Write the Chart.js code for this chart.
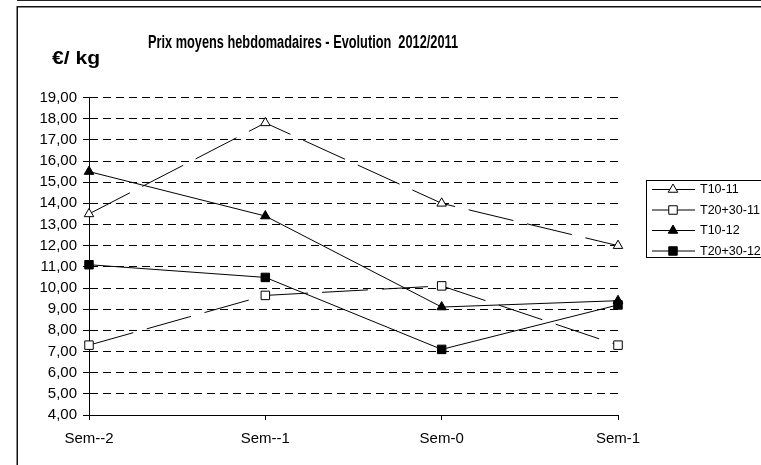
<!DOCTYPE html>
<html>
<head>
<meta charset="utf-8">
<script src="https://cdn.jsdelivr.net/npm/chart.js@4/dist/chart.umd.min.js"></script>
<style>
body { margin: 0; background: #fff; }
canvas { display: block; }
</style>
</head>
<body>
<canvas id="graf_prix" width="761" height="465"></canvas>
<script>
// semaines et prix moyens (euros / kg)
var semaines = ['Sem--2', 'Sem--1', 'Sem-0', 'Sem-1'];
var prixT10_11 = [13.5, 17.8, 14.0, 12.0];
var prixT2030_11 = [7.3, 9.65, 10.1, 7.3];
var prixT10_12 = [15.5, 13.4, 9.1, 9.4];
var prixT2030_12 = [11.1, 10.5, 7.1, 9.2];
var nomsSeries = ['T10-11', 'T20+30-11', 'T10-12', 'T20+30-12'];

var titre = 'Prix moyens hebdomadaires - Evolution  2012/2011';
var uniteY = '\u20AC/ kg';
var police = '"Liberation Sans", Arial, sans-serif';

function marque(ctx, style, x, y, r) {
	ctx.beginPath();
	if (style == 'triangle') {
		ctx.moveTo(x, y - r);
		ctx.lineTo(x + r * 0.866, y + r / 2);
		ctx.lineTo(x - r * 0.866, y + r / 2);
		ctx.closePath();
	} else {
		var s = r * Math.SQRT1_2;
		ctx.rect(x - s, y - s, 2 * s, 2 * s);
	}
	ctx.fill();
	ctx.stroke();
}

// texte resserre pour tenir dans la largeur voulue
function texteLargeur(ctx, txt, x, y, largeur, align) {
	var w = ctx.measureText(txt).width;
	var sx = largeur / w;
	ctx.save();
	ctx.translate(x, y);
	ctx.scale(sx, 1);
	ctx.textAlign = align;
	ctx.fillText(txt, 0, 0);
	ctx.restore();
}

var cadre = {
	id: 'cadre',
	beforeDraw: function(chart) {
		var ctx = chart.ctx;
		ctx.save();
		ctx.fillStyle = '#fff';
		ctx.fillRect(0, 0, chart.width, chart.height);
		ctx.strokeStyle = '#222';
		ctx.lineWidth = 1;
		ctx.beginPath();
		ctx.moveTo(17, 0.5);
		ctx.lineTo(761, 0.5);
		ctx.stroke();
		ctx.lineWidth = 1.5;
		ctx.strokeStyle = '#111';
		ctx.beginPath();
		ctx.moveTo(17.25, 465);
		ctx.lineTo(17.25, 6.75);
		ctx.lineTo(761, 6.75);
		ctx.stroke();
		ctx.restore();
	},
	afterDraw: function(chart) {
		var ctx = chart.ctx;
		ctx.save();
		ctx.fillStyle = '#000';
		ctx.textBaseline = 'middle';
		ctx.font = 'bold 18px ' + police;
		texteLargeur(ctx, titre, 303, 43, 310, 'center');
		ctx.font = 'bold 19px ' + police;
		texteLargeur(ctx, uniteY, 52, 58.5, 48, 'left');

		// legende
		ctx.lineWidth = 1;
		ctx.strokeStyle = '#000';
		ctx.strokeRect(646.5, 180.5, 130, 77);
		ctx.font = '12.5px ' + police;
		ctx.textAlign = 'left';
		var ds = chart.data.datasets;
		for (var i = 0; i < ds.length; i++) {
			var y = 189.5 + i * 20.5;
			ctx.beginPath();
			ctx.moveTo(652, y);
			ctx.lineTo(695, y);
			ctx.stroke();
			ctx.fillStyle = ds[i].pointBackgroundColor;
			marque(ctx, ds[i].pointStyle, 673, y, ds[i].pointStyle == 'triangle' ? 5.5 : 6);
			ctx.fillStyle = '#000';
			ctx.fillText(ds[i].label, 700, y + 0.5);
		}
		ctx.restore();
	}
};

function serie(nom, valeurs, forme, plein, tirets) {
	return {
		label: nom,
		data: valeurs,
		borderColor: '#000',
		borderWidth: 1,
		borderDash: tirets,
		pointStyle: forme,
		pointRadius: forme == 'triangle' ? 5.5 : 6,
		pointBorderWidth: 1,
		pointBorderColor: '#000',
		pointBackgroundColor: plein ? '#000' : '#fff',
		fill: false,
		tension: 0
	};
}

new Chart(document.getElementById('graf_prix'), {
	type: 'line',
	data: {
		labels: semaines,
		datasets: [
			serie(nomsSeries[0], prixT10_11, 'triangle', false, [46, 14]),
			serie(nomsSeries[1], prixT2030_11, 'rect', false, [46, 14]),
			serie(nomsSeries[2], prixT10_12, 'triangle', true, []),
			serie(nomsSeries[3], prixT2030_12, 'rect', true, [])
		]
	},
	options: {
		responsive: false,
		animation: false,
		devicePixelRatio: 1,
		layout: { padding: { left: 0, top: 97.5, right: 143, bottom: 0 } },
		plugins: {
			legend: { display: false },
			title: { display: false },
			tooltip: { enabled: false }
		},
		scales: {
			x: {
				offset: false,
				afterFit: function(s) { s.height = 50; },
				grid: { drawOnChartArea: false, tickLength: 5, color: '#000', tickColor: '#000' },
				border: { color: '#000', width: 1 },
				ticks: { color: '#000', padding: 10, font: { family: police, size: 15 }, maxRotation: 0 }
			},
			y: {
				min: 4,
				max: 19,
				afterFit: function(s) { s.width = 89; },
				grid: { color: '#000', tickColor: '#000', tickLength: 6, tickBorderDash: [] },
				border: { color: '#000', width: 1, dash: [8, 5] },
				ticks: {
					stepSize: 1,
					color: '#000',
					padding: 6,
					font: { family: police, size: 15 },
					callback: function(v) { return v.toFixed(2).replace('.', ','); }
				}
			}
		}
	},
	plugins: [cadre]
});
</script>
</body>
</html>
